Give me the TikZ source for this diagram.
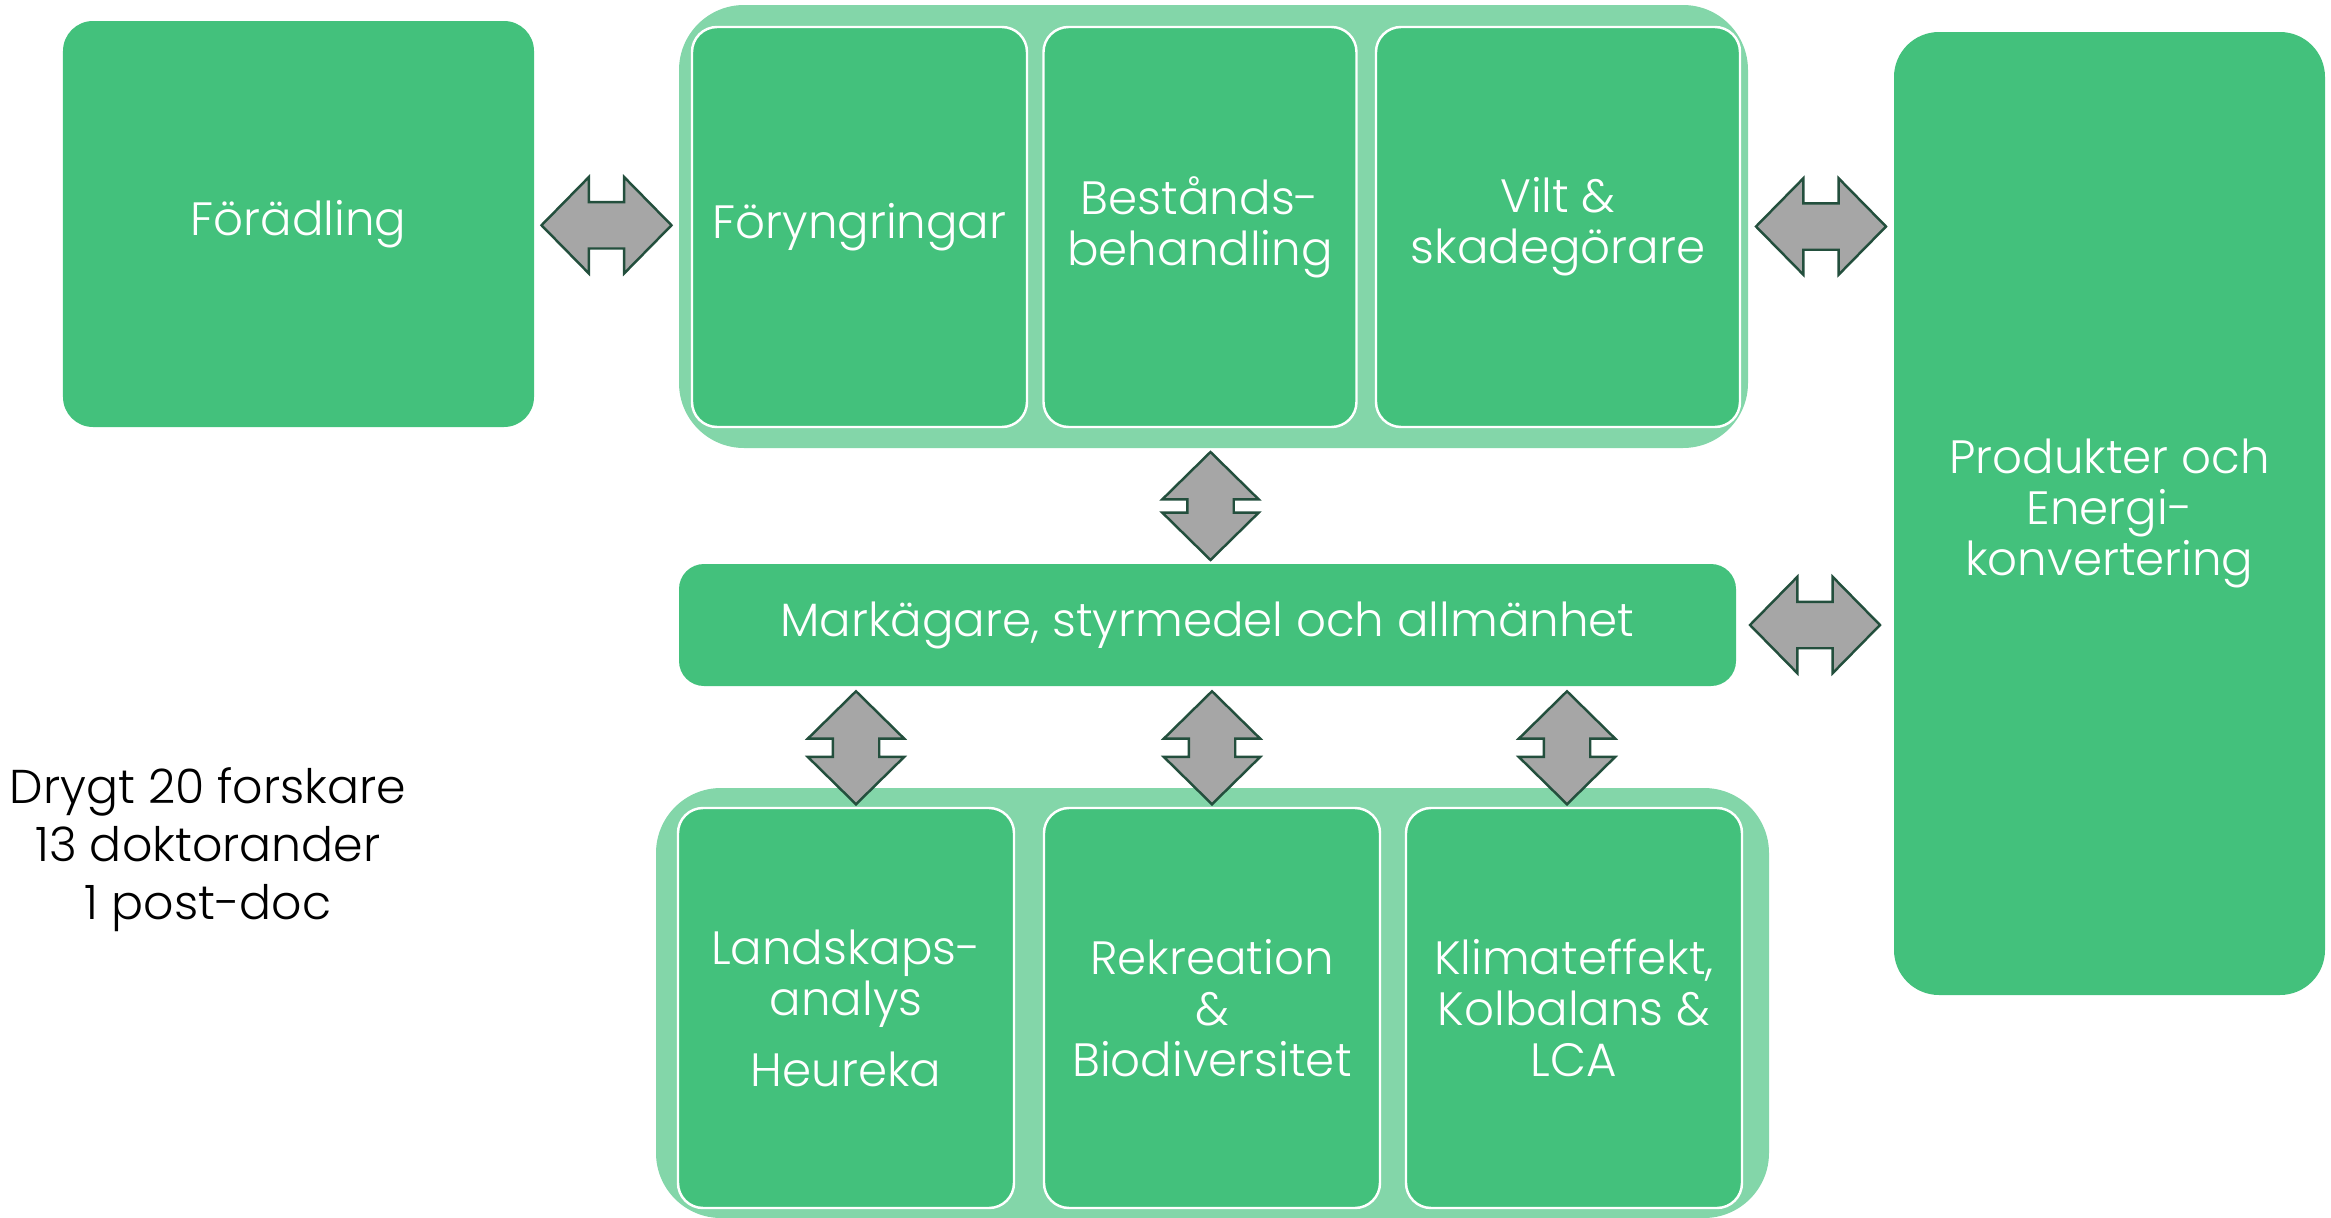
\documentclass[tikz,border=0pt]{standalone}
\usepackage{fontspec}
\setmainfont{Poppins}[UprightFont=* Light]
\usetikzlibrary{shapes.arrows,positioning,calc}
\definecolor{gron}{HTML}{43C17C}
\definecolor{ljusgron}{HTML}{83D6A9}
\definecolor{pilgra}{HTML}{A6A6A6}
\definecolor{pilkant}{HTML}{234F3D}

\begin{document}
\begin{tikzpicture}[
        ruta/.style={fill=gron, text=white, rounded corners=0.3cm, align=center, inner sep=0pt,
            font=\fontsize{13.3}{14.5}\selectfont},
        inre/.style={ruta, draw=white, line width=0.7pt, rounded corners=0.25cm,
            minimum width=3.36cm, minimum height=4cm},
        grupp/.style={fill=ljusgron, rounded corners=0.65cm, inner sep=0pt},
        pil/.style={double arrow, fill=pilgra, draw=pilkant, line width=0.7pt, inner xsep=0pt, inner ysep=0.22cm,
            double arrow head extend=0.25cm, double arrow tip angle=91},
        vpil/.style={pil, inner xsep=0.22cm, inner ysep=0pt, shape border rotate=90},
    ]
        \useasboundingbox (0,0) rectangle (23.31,-12.18);
        \node[grupp, minimum width=10.69cm, minimum height=4.43cm] (topp) at (12.135,-2.265) {};
        \node[grupp, minimum width=11.13cm, minimum height=4.30cm] (botten) at (12.125,-10.03) {};

        \node[ruta, minimum width=4.71cm, minimum height=4.06cm] (foradling) at (2.985,-2.24) {Förädling};
        \node[inre, minimum width=3.35cm] (foryngring) at (8.595,-2.27) {Föryngringar};
        \node[inre, minimum width=3.13cm] (bestand) at (12.0,-2.27) {Bestånds-\\behandling};
        \node[inre, minimum width=3.64cm] (vilt) at (15.58,-2.27) {Vilt \&\\skadegörare};
        \node[ruta, minimum width=4.31cm, minimum height=9.63cm, rounded corners=0.45cm] (produkter) at (21.095,-5.135)
            {Produkter och\\Energi-\\konvertering};
        \node[ruta, minimum width=10.57cm, minimum height=1.22cm, rounded corners=0.25cm] (markagare) at (12.075,-6.25)
            {Markägare, styrmedel och allmänhet};
        \node[inre] (landskap) at (8.46,-10.08) {Landskaps-\\analys\\[5.7pt]Heureka};
        \node[inre] (rekreation) at (12.12,-10.08) {Rekreation\\\&\\Biodiversitet};
        \node[inre] (klimat) at (15.74,-10.08) {Klimateffekt,\\Kolbalans \&\\LCA};

        \node[align=center, font=\fontsize{13.5}{16.5}\selectfont] (forskare) at (2.08,-8.5)
            {Drygt 20 forskare\\13 doktorander\\1 post-doc};

        \node[pil, minimum height=1.3cm] (p1) at ($(foradling.east)!0.5!(topp.west)$) {};
        \node[pil, minimum height=1.3cm] (p2) at ($(topp.east)!0.5!(topp.east -| produkter.west)$) {};
        \node[pil, minimum height=1.3cm] (p3) at ($(markagare.east)!0.5!(markagare.east -| produkter.west)$) {};
        \node[vpil, minimum height=1.08cm] (p4) at ($(topp.south)!0.5!(markagare.north)$) {};
        \node[vpil, minimum height=1.13cm] (p5) at ($(landskap.north)+(0.1,0.59)$) {};
        \node[vpil, minimum height=1.13cm] (p6) at ($(rekreation.north)+(0,0.59)$) {};
        \node[vpil, minimum height=1.13cm] (p7) at ($(klimat.north)+(-0.07,0.59)$) {};
    \end{tikzpicture}
\end{document}
